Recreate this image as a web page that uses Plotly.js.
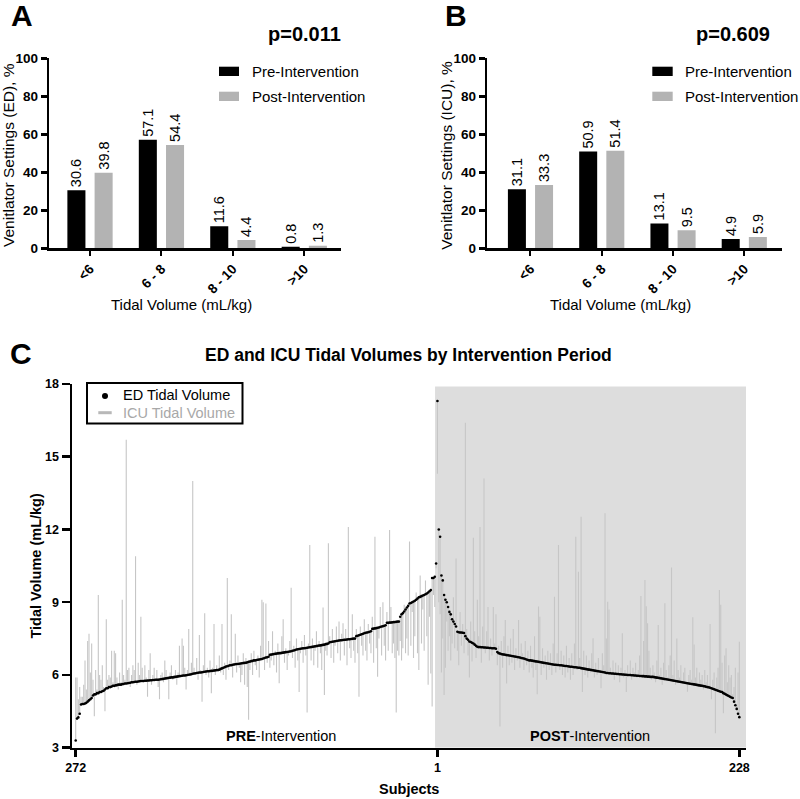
<!DOCTYPE html>
<html><head><meta charset="utf-8">
<script src="https://cdn.plot.ly/plotly-3.0.1.min.js"></script>
<style>html,body{margin:0;padding:0;background:#fff}#chart{width:800px;height:799px}</style>
</head><body><div id="chart"></div>
<script>
// ---------- Panels A and B: bar data ----------
const categories = ['<6', '6 - 8', '8 - 10', '>10'];
const edPreIntervention  = [30.6, 57.1, 11.6, 0.8];
const edPostIntervention = [39.8, 54.4, 4.4, 1.3];
const icuPreIntervention  = [31.1, 50.9, 13.1, 4.9];
const icuPostIntervention = [33.3, 51.4, 9.5, 5.9];
const pValueA = 'p=0.011';
const pValueB = 'p=0.609';

// ---------- Panel C: per-subject tidal volumes (mL/kg) ----------
const subjectTickLabels = ['272', '1', '228'];
// Pre-intervention, plotted left to right (subject 272 ... 1)
const preED = [
3.3,4.2,4.25,4.4,4.78,4.8,4.8,4.82,4.85,4.9,
4.95,5.0,5.05,5.15,5.2,5.2,5.25,5.25,5.3,5.3,
5.33,5.35,5.4,5.45,5.45,5.5,5.5,5.52,5.55,5.55,
5.57,5.58,5.6,5.6,5.6,5.62,5.63,5.65,5.65,5.66,
5.67,5.68,5.7,5.7,5.71,5.72,5.72,5.73,5.74,5.75,
5.75,5.75,5.76,5.76,5.77,5.77,5.78,5.78,5.79,5.79,
5.8,5.8,5.8,5.81,5.82,5.83,5.84,5.85,5.86,5.87,
5.88,5.89,5.9,5.9,5.91,5.92,5.93,5.94,5.95,5.96,
5.97,5.98,5.98,5.99,6.0,6.01,6.02,6.03,6.05,6.06,
6.07,6.08,6.09,6.1,6.1,6.11,6.12,6.13,6.14,6.15,
6.15,6.16,6.17,6.17,6.18,6.19,6.2,6.2,6.22,6.25,
6.27,6.3,6.32,6.35,6.36,6.38,6.4,6.4,6.42,6.43,
6.44,6.45,6.45,6.46,6.47,6.48,6.49,6.5,6.5,6.52,
6.54,6.55,6.57,6.58,6.6,6.6,6.62,6.63,6.64,6.65,
6.66,6.68,6.7,6.72,6.73,6.75,6.83,6.84,6.85,6.86,
6.87,6.88,6.89,6.9,6.9,6.91,6.92,6.93,6.94,6.95,
6.96,6.97,6.98,7.0,7.01,7.03,7.05,7.06,7.07,7.08,
7.09,7.1,7.1,7.11,7.12,7.13,7.14,7.15,7.16,7.17,
7.18,7.19,7.2,7.21,7.22,7.23,7.24,7.25,7.27,7.28,
7.3,7.35,7.36,7.37,7.38,7.39,7.4,7.41,7.42,7.43,
7.43,7.44,7.45,7.45,7.46,7.47,7.47,7.48,7.49,7.5,
7.5,7.6,7.62,7.64,7.66,7.68,7.7,7.72,7.74,7.75,
7.76,7.78,7.8,7.9,7.91,7.92,7.93,7.95,7.96,7.98,
8.0,8.01,8.03,8.05,8.15,8.15,8.16,8.16,8.17,8.18,
8.18,8.19,8.2,8.2,8.4,8.5,8.55,8.62,8.7,8.78,
8.85,8.95,8.97,9.0,9.03,9.06,9.1,9.15,9.2,9.22,
9.25,9.28,9.3,9.33,9.36,9.4,9.45,9.5,10.0,10.0,
10.05,10.6];
const preICU = [
5.9,5.9,5.0,5.5,5.1,5.1,5.6,6.6,5.4,7.4,
7.7,6.1,7.3,5.8,4.3,6.2,5.4,9.3,6.0,5.8,
6.4,5.5,4.5,8.3,5.8,6.0,5.9,7.0,5.7,7.0,
6.9,5.9,5.4,6.1,5.7,9.1,6.0,5.8,15.7,6.2,
6.3,5.5,6.0,6.4,6.2,10.9,5.6,6.5,6.0,8.4,
6.3,5.7,6.4,5.9,5.1,6.2,6.9,5.6,6.0,6.3,
5.8,6.2,5.5,5.0,6.0,6.1,5.7,6.6,6.2,5.9,
5.0,6.1,6.4,5.8,6.0,6.2,5.6,6.1,7.2,6.0,
7.5,7.2,6.3,5.4,6.2,7.9,6.1,6.5,14.0,6.3,
6.0,6.7,5.8,7.65,6.2,4.9,6.4,8.55,6.0,6.3,
5.9,6.6,5.25,6.3,8.1,6.0,6.4,6.2,6.8,6.1,
8.1,6.0,6.5,5.8,10.0,6.2,6.6,8.5,5.9,6.4,
7.7,6.1,6.8,6.3,5.7,6.0,6.9,5.6,6.7,5.5,
4.15,6.2,6.9,6.0,7.0,6.4,6.2,6.8,5.9,7.2,
9.1,9.0,6.2,8.95,6.5,7.4,6.3,6.6,7.8,6.4,
7.0,6.1,7.3,5.66,6.9,7.6,8.3,6.5,7.1,6.2,
6.8,7.4,9.6,6.7,7.2,6.3,7.5,6.6,5.3,6.9,
7.4,6.5,7.65,6.8,4.45,7.3,11.36,6.6,7.5,6.4,
7.0,7.8,6.3,7.4,6.9,6.2,8.78,5.17,7.0,6.8,
11.43,7.6,6.7,7.9,6.5,7.2,8.0,6.9,8.2,6.6,
7.7,8.13,6.8,7.9,6.4,12.1,7.1,6.7,8.5,7.0,
6.5,7.9,6.9,5.1,8.0,7.2,6.8,8.3,7.0,6.6,
8.1,7.3,6.9,8.4,6.5,11.7,7.1,5.93,7.5,8.8,
6.8,9.0,7.2,6.6,8.6,7.0,11.98,8.8,6.9,7.3,
6.7,4.45,7.0,6.8,7.4,6.6,7.1,8.9,6.9,7.5,
6.8,11.5,7.2,8.6,6.7,7.6,9.4,6.9,6.2,10.1,
7.3,8.7,7.0,9.9,7.6,5.6,8.4,6.06,4.7,9.3,
8.8,10.4];
// Post-intervention, plotted left to right (subject 1 ... 228)
const postED = [
17.3,12.0,11.7,10.1,9.9,9.3,9.1,9.0,8.8,8.6,
8.5,8.3,8.2,8.1,8.0,7.78,7.76,7.75,7.75,7.74,
7.73,7.6,7.5,7.45,7.38,7.36,7.33,7.3,7.25,7.2,
7.16,7.15,7.15,7.14,7.14,7.13,7.13,7.12,7.12,7.11,
7.11,7.1,7.1,7.1,7.08,6.95,6.9,6.88,6.86,6.85,
6.84,6.83,6.82,6.81,6.8,6.79,6.78,6.77,6.76,6.75,
6.74,6.73,6.72,6.7,6.69,6.68,6.66,6.64,6.62,6.6,
6.6,6.59,6.58,6.57,6.56,6.55,6.54,6.53,6.52,6.51,
6.5,6.49,6.48,6.47,6.46,6.45,6.44,6.43,6.42,6.42,
6.41,6.41,6.4,6.4,6.39,6.38,6.37,6.37,6.36,6.35,
6.34,6.34,6.33,6.32,6.32,6.31,6.3,6.3,6.28,6.27,
6.26,6.25,6.24,6.23,6.22,6.21,6.2,6.19,6.18,6.17,
6.16,6.15,6.14,6.13,6.12,6.11,6.1,6.08,6.08,6.07,
6.07,6.06,6.06,6.05,6.05,6.04,6.04,6.03,6.03,6.02,
6.02,6.01,6.01,6.0,6.0,6.0,5.99,5.99,5.98,5.98,
5.97,5.97,5.96,5.96,5.95,5.95,5.94,5.94,5.93,5.93,
5.92,5.92,5.92,5.91,5.9,5.89,5.88,5.87,5.86,5.85,
5.84,5.83,5.82,5.81,5.8,5.79,5.78,5.77,5.76,5.75,
5.74,5.73,5.72,5.71,5.7,5.69,5.68,5.67,5.66,5.65,
5.64,5.63,5.62,5.61,5.6,5.59,5.58,5.57,5.56,5.55,
5.54,5.53,5.51,5.5,5.49,5.47,5.45,5.43,5.41,5.39,
5.37,5.35,5.33,5.31,5.3,5.25,5.22,5.19,5.16,5.13,
5.1,5.07,5.05,4.9,4.75,4.6,4.4,4.26];
const postICU = [
14.3,9.0,8.5,6.1,7.5,5.17,6.3,8.2,7.0,7.6,
6.6,7.3,9.2,7.1,10.8,7.0,6.4,8.6,7.2,8.1,
6.9,16.4,7.9,6.8,5.9,8.2,6.55,11.66,7.8,6.7,
9.1,7.6,12.1,6.5,8.0,14.1,6.9,7.8,8.8,6.6,
7.5,6.8,8.8,7.3,8.5,6.4,7.2,3.87,7.4,6.3,
7.6,8.27,5.65,7.2,6.4,7.5,6.5,7.9,6.2,7.1,
6.6,8.27,6.3,7.3,6.9,6.2,7.4,6.4,7.0,6.1,
7.2,6.3,5.9,7.6,6.2,5.2,8.82,8.4,6.0,7.1,
6.3,6.8,5.8,7.0,6.2,6.9,6.0,7.3,9.23,6.1,
6.9,11.36,6.2,7.0,6.0,6.8,5.9,7.2,6.1,6.7,
5.8,6.9,6.0,7.3,11.7,6.2,10.26,6.7,12.53,5.3,
7.0,6.0,6.8,5.9,6.6,6.1,6.9,7.51,5.9,6.5,
6.0,6.7,6.2,5.45,6.9,6.4,12.67,7.5,9.02,8.7,
6.3,6.0,6.6,5.8,6.5,6.1,6.4,5.7,6.3,7.72,
5.9,6.2,5.3,6.4,6.0,6.6,5.8,6.3,6.1,6.5,
5.9,6.2,6.8,9.26,6.0,7.4,9.92,8.83,8.13,7.0,
6.3,5.8,6.4,6.1,5.7,6.6,8.06,6.0,6.3,5.6,
6.5,8.96,6.2,5.9,6.4,6.8,10.43,6.0,6.6,5.6,
7.5,6.2,5.9,6.4,5.7,6.1,6.3,5.6,5.31,6.0,
6.2,5.8,8.38,7.26,5.9,6.3,5.5,6.1,5.8,6.0,
5.4,6.2,5.7,6.0,5.6,8.1,5.0,5.8,6.1,3.6,
5.9,6.3,9.5,8.9,6.5,4.42,6.8,7.1,5.7,6.4,
5.9,6.0,5.2,5.5,6.3,4.8,6.1,7.37];

// ---------- helpers ----------
const W = 800, H = 799;
const px = v => v / W;
const py = v => 1 - v / H;
const FONT = 'Liberation Sans, Arial, Helvetica, sans-serif';
const PRE_COLOR = '#000000';
const POST_COLOR = '#b3b3b3';

// subject positions along panel C (pre then post, one slot per subject)
const edAll = preED.concat(postED);
const icuAll = preICU.concat(postICU);
const slot = edAll.map((_, k) => k);
const lineX = [], lineY = [];
slot.forEach(k => { lineX.push(k, k, null); lineY.push(edAll[k], icuAll[k], null); });

function barTrace(vals, color, name, xa, ya) {
  return {
    type: 'bar', x: categories, y: vals, name: name, xaxis: xa, yaxis: ya,
    marker: { color: color, line: { width: 0 } },
    text: vals.map(v => v.toFixed(1)), textposition: 'outside', textangle: -90,
    textfont: { family: FONT, size: 14.5, color: '#000' },
    constraintext: 'none', cliponaxis: false, hoverinfo: 'skip', showlegend: false
  };
}

const data = [
  barTrace(edPreIntervention, PRE_COLOR, 'Pre-Intervention', 'x', 'y'),
  barTrace(edPostIntervention, POST_COLOR, 'Post-Intervention', 'x', 'y'),
  barTrace(icuPreIntervention, PRE_COLOR, 'Pre-Intervention', 'x2', 'y2'),
  barTrace(icuPostIntervention, POST_COLOR, 'Post-Intervention', 'x2', 'y2'),
  { type: 'scatter', mode: 'lines', x: lineX, y: lineY, xaxis: 'x3', yaxis: 'y3',
    line: { color: '#c6c6c6', width: 1.1 }, connectgaps: false, hoverinfo: 'skip',
    name: 'ICU Tidal Volume', showlegend: false },
  { type: 'scatter', mode: 'markers', x: slot, y: edAll, xaxis: 'x3', yaxis: 'y3',
    marker: { color: '#000', size: 2.6, line: { width: 0 } }, hoverinfo: 'skip',
    name: 'ED Tidal Volume', showlegend: false }
];

const tickFont = s => ({ family: FONT, size: s, color: '#000', weight: 'bold' });
const baseAxis = {
  showline: true, linewidth: 2.5, linecolor: '#000', ticks: 'outside', tickcolor: '#000',
  showgrid: false, zeroline: false, fixedrange: true
};
const barX = (d, r) => Object.assign({}, baseAxis, {
  domain: d, range: r, type: 'category', ticklen: 5, tickwidth: 2, tickangle: -45,
  tickfont: tickFont(13.5)
});
const barY = (anchor) => Object.assign({}, baseAxis, {
  domain: [py(248.3), py(58.3)], range: [0, 100], tick0: 0, dtick: 20, anchor: anchor,
  ticklen: 6, tickwidth: 2.5, tickfont: tickFont(13.5)
});

function ann(text, x, y, opts) {
  return Object.assign({
    text: text, x: px(x), y: py(y), xref: 'paper', yref: 'paper', showarrow: false,
    xanchor: 'center', yanchor: 'middle',
    font: { family: FONT, size: 15, color: '#000' }
  }, opts || {});
}
const bold = (s, size, extra) => Object.assign({ font: { family: FONT, size: size, color: '#000', weight: 'bold' } }, extra || {});
const legendFont = { family: FONT, size: 15, color: '#000' };

const annotations = [
  ann('A', 21.7, 16, bold('A', 30)),
  ann('B', 455.8, 16, bold('B', 30)),
  ann('C', 21, 354, bold('C', 30)),
  ann(pValueA, 304.7, 34, bold('', 20)),
  ann(pValueB, 732.5, 34, bold('', 20)),
  ann('Venitlator Settings (ED), %', 8, 155, { textangle: -90, font: { family: FONT, size: 15.5, color: '#000' } }),
  ann('Venitlator Settings (ICU), %', 445.8, 155, { textangle: -90, font: { family: FONT, size: 15.5, color: '#000' } }),
  ann('Tidal Volume (mL/kg)', 181, 304),
  ann('Tidal Volume (mL/kg)', 620, 304),
  ann('Pre-Intervention', 250, 71.3, { xanchor: 'left', font: legendFont }),
  ann('Post-Intervention', 250, 96.3, { xanchor: 'left', font: legendFont }),
  ann('Pre-Intervention', 682.5, 71.3, { xanchor: 'left', font: legendFont }),
  ann('Post-Intervention', 682.5, 96.3, { xanchor: 'left', font: legendFont }),
  ann('ED and ICU Tidal Volumes by Intervention Period', 408, 355, bold('', 17.5)),
  ann('Tidal Volume (mL/kg)', 35, 566.5, bold('', 14.5, { textangle: -90 })),
  ann('Subjects', 409, 789, bold('', 14.5)),
  ann('<b>PRE</b>-Intervention', 281.2, 735.8, { font: { family: FONT, size: 14.5, color: '#000' } }),
  ann('<b>POST</b>-Intervention', 590, 735.8, { font: { family: FONT, size: 14.5, color: '#000' } }),
  ann('ED Tidal Volume', 121, 395, { xanchor: 'left', font: { family: FONT, size: 14.5, color: '#000' } }),
  ann('ICU Tidal Volume', 121, 412.7, { xanchor: 'left', font: { family: FONT, size: 14.5, color: '#a8a8a8' } })
];

const rectP = (x0, y0, x1, y1, fill, extra) => Object.assign({
  type: 'rect', xref: 'paper', yref: 'paper', x0: px(x0), x1: px(x1), y0: py(y1), y1: py(y0),
  fillcolor: fill, line: { width: 0 }, layer: 'above'
}, extra || {});

const shapes = [
  // shaded post-intervention period in panel C
  { type: 'rect', xref: 'x3', yref: 'y3', x0: preED.length - 1.8, x1: 504, y0: 3, y1: 17.9,
    fillcolor: '#dddddd', line: { width: 0 }, layer: 'below' },
  // legend A
  rectP(219, 66.7, 239, 76, PRE_COLOR),
  rectP(219, 91.7, 239, 101, POST_COLOR),
  // legend B
  rectP(652.3, 66.7, 672.7, 76, PRE_COLOR),
  rectP(652.3, 91.7, 672.7, 101, POST_COLOR),
  // legend C box
  rectP(87, 383, 242.5, 423.5, 'rgba(255,255,255,1)', { line: { color: '#000', width: 2 } }),
  { type: 'circle', xref: 'paper', yref: 'paper', x0: px(102), x1: px(108), y0: py(399), y1: py(393),
    fillcolor: '#000', line: { width: 0 }, layer: 'above' },
  { type: 'line', xref: 'paper', yref: 'paper', x0: px(98.3), x1: px(111.7), y0: py(412.7), y1: py(412.7),
    line: { color: '#b8b8b8', width: 3 }, layer: 'above' }
];

const layout = {
  width: W, height: H, margin: { l: 0, r: 0, t: 0, b: 0 },
  paper_bgcolor: '#fff', plot_bgcolor: 'rgba(0,0,0,0)',
  showlegend: false, barmode: 'group', bargap: 0.238, bargroupgap: 0.337,
  font: { family: FONT, color: '#000' },
  xaxis: Object.assign(barX([px(49.3), px(340.7)], [-0.57, 3.51]), { anchor: 'y' }),
  yaxis: barY('x'),
  xaxis2: Object.assign(barX([px(487.3), px(781.7)], [-0.606, 3.525]), { anchor: 'y2' }),
  yaxis2: barY('x2'),
  xaxis3: Object.assign({}, baseAxis, {
    domain: [px(72), px(746)], anchor: 'y3', range: [-2.78, 504],
    tickmode: 'array', tickvals: [0, preED.length, preED.length + postED.length - 1],
    ticktext: subjectTickLabels, ticklen: 7, tickwidth: 2.5, tickfont: tickFont(12.5)
  }),
  yaxis3: Object.assign({}, baseAxis, {
    domain: [py(747.7), py(384)], anchor: 'x3', range: [3, 18], tick0: 3, dtick: 3,
    ticklen: 8, tickwidth: 2.5, tickfont: tickFont(12.5)
  }),
  shapes: shapes,
  annotations: annotations
};

Plotly.newPlot('chart', data, layout, { staticPlot: true, displayModeBar: false });
</script>
</body></html>
